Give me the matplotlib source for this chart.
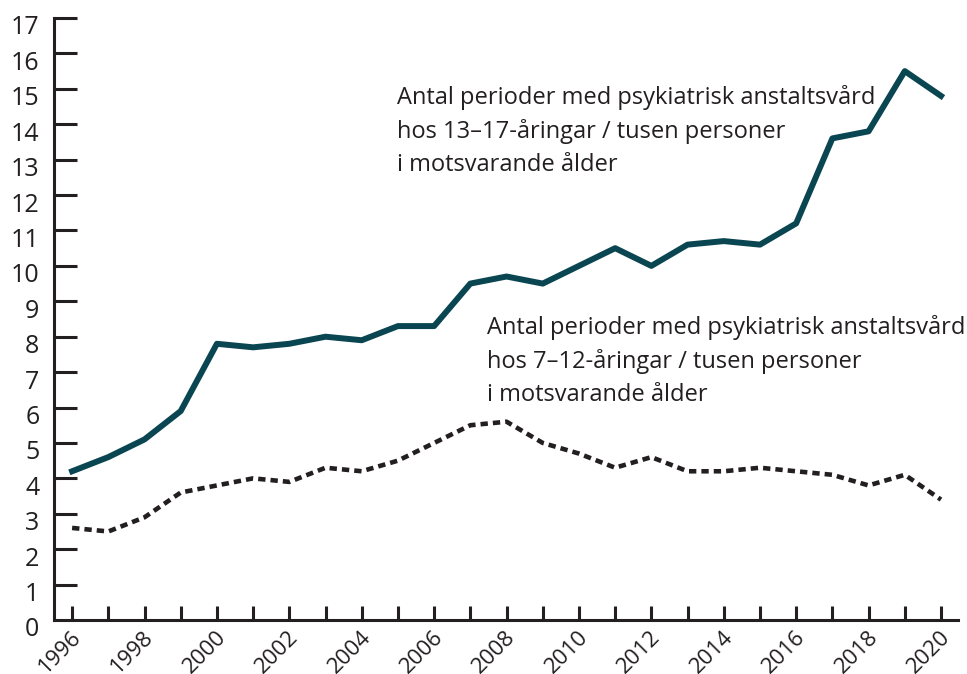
import numpy as np
import matplotlib
matplotlib.use("Agg")
import matplotlib.pyplot as plt
from matplotlib import transforms

plt.rcParams['font.family'] = ['Open Sans', 'DejaVu Sans']

years = list(range(1996, 2021))
# 13-17 år, perioder per tusen
ungdom = [4.2, 4.6, 5.1, 5.9, 7.8, 7.7, 7.8, 8.0, 7.9, 8.3, 8.3, 9.5, 9.7,
          9.5, 10.0, 10.5, 10.0, 10.6, 10.7, 10.6, 11.2, 13.6, 13.8, 15.5, 14.8]
# 7-12 år
barn = [2.6, 2.5, 2.9, 3.6, 3.8, 4.0, 3.9, 4.3, 4.2, 4.5, 5.0, 5.5, 5.6,
        5.0, 4.7, 4.3, 4.6, 4.2, 4.2, 4.3, 4.2, 4.1, 3.8, 4.1, 3.4]

label_ungdom = "Antal perioder med psykiatrisk anstaltsvård\nhos 13–17-åringar / tusen personer\ni motsvarande ålder"
label_barn = "Antal perioder med psykiatrisk anstaltsvård\nhos 7–12-åringar / tusen personer\ni motsvarande ålder"

textfarg = '#231f20'

fig = plt.figure(figsize=(9.67, 6.74), dpi=100)
ax = fig.add_axes([54/967, 1 - 620/674, (958 - 54)/967, (620 - 18)/674])

ax.plot(years, ungdom, color='#0a4651', lw=4.3)
ax.plot(years, barn, color='#231f20', lw=3.3, dashes=(1.6, 1.1), dash_capstyle='butt')

ax.set_xlim(1995.5, 2020.47)
ax.set_ylim(0, 17)

ax.spines['top'].set_visible(False)
ax.spines['right'].set_visible(False)
for s in ['left', 'bottom']:
    ax.spines[s].set_linewidth(2.2)
    ax.spines[s].set_color(textfarg)

ax.set_yticks(range(0, 18))
ax.set_xticks(years)
ax.set_xticklabels([str(y) if y % 2 == 0 else '' for y in years],
                   rotation=45, ha='right', va='center', rotation_mode='anchor')
ax.tick_params(axis='y', direction='in', length=16.5, width=2.2, color=textfarg,
               labelsize=18, labelcolor=textfarg, pad=10.5)
ax.tick_params(axis='x', direction='in', length=10, width=2.2, color=textfarg,
               labelsize=16, labelcolor=textfarg, pad=10)
# ingen tick vid 0 på y-axeln
ax.yaxis.get_major_ticks()[0].tick1line.set_visible(False)

flytt_x = transforms.ScaledTranslation(6/100, 0, fig.dpi_scale_trans)
for lbl in ax.get_xticklabels():
    lbl.set_transform(lbl.get_transform() + flytt_x)
flytt_y = transforms.ScaledTranslation(0, -7/100, fig.dpi_scale_trans)
for lbl in ax.get_yticklabels():
    lbl.set_transform(lbl.get_transform() + flytt_y)

ax.text(2004.98, 15.1, label_ungdom, fontsize=17, color=textfarg,
        va='top', ha='left', linespacing=1.47)
ax.text(2007.46, 8.6, label_barn, fontsize=17, color=textfarg,
        va='top', ha='left', linespacing=1.47)

fig.savefig('out.png', dpi=100)
